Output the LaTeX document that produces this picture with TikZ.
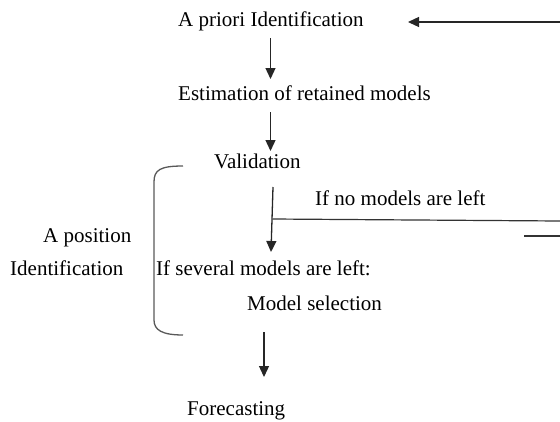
\documentclass[tikz,border=0pt]{standalone}
\usepackage{fontspec}
\setmainfont{Liberation Serif}
\usetikzlibrary{arrows.meta}
\tikzstyle{label}=[inner sep=0pt,anchor=base west,font=\fontsize{21}{25}\selectfont]
\tikzstyle{flow}=[draw=black!85,line width=1.3pt,-{Triangle[width=10pt,length=11pt]}]
\tikzstyle{rule}=[draw=black!80,line width=1.2pt]

\begin{document}
\begin{tikzpicture}[x=1pt,y=-1pt]
      \useasboundingbox (0,0) rectangle (560,421);

      \node[label] (prio) at (178,26.5) {A priori Identification};
      \node[label] (estim) at (178,100) {Estimation of retained models};
      \node[label] (valid) at (214,168) {Validation};
      \node[label] (none) at (315,205) {If no models are left};
      \node[label] (apos) at (43,242) {A position};
      \node[label] (ident) at (10,275) {Identification};
      \node[label] (sev) at (156,275) {If several models are left:};
      \node[label] (msel) at (247,310) {Model selection};
      \node[label] (fore) at (187,415.5) {Forecasting};

      % arrow ends
      \coordinate (r0) at (560,22);
      \coordinate (r1) at (408,22);
      \coordinate (p0) at (270.5,38);
      \coordinate (p1) at (270.5,79);
      \coordinate (e0) at (270.5,112);
      \coordinate (e1) at (270.5,151);
      \coordinate (v0) at (273,187);
      \coordinate (v1) at (271,252);
      \coordinate (j0) at (272.5,219);
      \coordinate (j1) at (560,221);
      \coordinate (k0) at (524,236);
      \coordinate (k1) at (560,236);
      \coordinate (m0) at (264,332);
      \coordinate (m1) at (264,377);

      \draw[flow] (r0) -- (r1);
      \draw[flow] (p0) -- (p1);
      \draw[flow] (e0) -- (e1);
      \draw[flow] (v0) -- (v1);
      \draw[flow] (m0) -- (m1);
      \draw[rule] (j0) -- (j1);
      \draw[rule] (k0) -- (k1);

      % bracket
      \coordinate (b0) at (183,166);
      \coordinate (b1) at (183,335);
      \draw[draw=black!65,line width=1.3pt]
        (b0) .. controls (160,166) and (154,170) .. (154,182)
        -- (154,320) .. controls (154,330) and (162,335) .. (b1);
    \end{tikzpicture}
\end{document}
